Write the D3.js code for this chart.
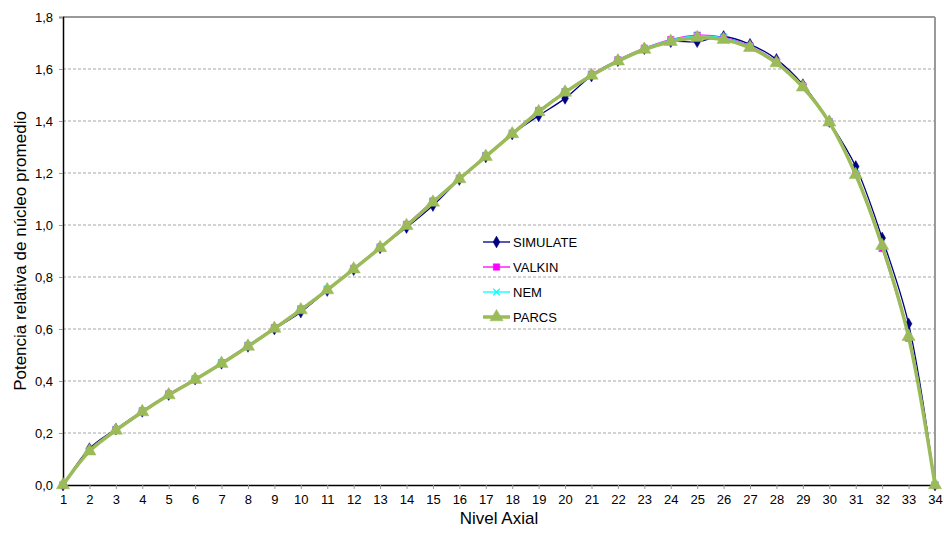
<!DOCTYPE html>
<html>
<head>
<meta charset="utf-8">
<script src="https://cdn.jsdelivr.net/npm/d3@7"></script>
<style>
  body { margin: 0; background: #fff; }
  svg { display: block; font-family: "Liberation Sans", Arial, sans-serif; }
</style>
</head>
<body>
<svg id="chart" width="944" height="537"></svg>
<script>
// axial levels
var levels = d3.range(1, 35);

var simulate = [0.000, 0.140, 0.215, 0.283, 0.348, 0.407, 0.468, 0.533, 0.600, 0.665,
  0.748, 0.828, 0.912, 0.990, 1.075, 1.175, 1.262, 1.350, 1.420, 1.487,
  1.573, 1.632, 1.678, 1.705, 1.705, 1.725, 1.695, 1.637, 1.540, 1.398,
  1.225, 0.950, 0.620, 0.000];

var valkin = [0.000, 0.133, 0.213, 0.285, 0.350, 0.408, 0.470, 0.537, 0.605, 0.677,
  0.753, 0.833, 0.915, 1.002, 1.092, 1.180, 1.267, 1.353, 1.440, 1.513,
  1.580, 1.635, 1.680, 1.713, 1.730, 1.722, 1.688, 1.628, 1.535, 1.397,
  1.197, 0.910, 0.565, 0.000];

var nem = [0.000, 0.132, 0.212, 0.284, 0.349, 0.407, 0.469, 0.536, 0.604, 0.676,
  0.752, 0.832, 0.914, 1.000, 1.090, 1.179, 1.266, 1.352, 1.438, 1.512,
  1.578, 1.634, 1.679, 1.711, 1.727, 1.720, 1.686, 1.627, 1.534, 1.396,
  1.197, 0.915, 0.568, 0.000];

var parcs = [0.000, 0.130, 0.210, 0.281, 0.346, 0.405, 0.467, 0.533, 0.602, 0.673,
  0.750, 0.830, 0.912, 0.997, 1.087, 1.177, 1.263, 1.350, 1.435, 1.510,
  1.575, 1.630, 1.675, 1.705, 1.720, 1.713, 1.682, 1.623, 1.530, 1.395,
  1.193, 0.920, 0.570, 0.000];

var yTicks = d3.range(0, 1.81, 0.2);

var seriesNames = ["SIMULATE", "VALKIN", "NEM", "PARCS"];
var seriesData = [simulate, valkin, nem, parcs];

var styles = {
  SIMULATE: { color: "#000080", width: 1.3, marker: "diamond", size: 40 },
  VALKIN:   { color: "#ff00ff", width: 1.3, marker: "square",  size: 42 },
  NEM:      { color: "#00ffff", width: 1.3, marker: "cross",   size: 30 },
  PARCS:    { color: "#9bbb59", width: 3.5, marker: "triangle", size: 75 }
};

var svg = d3.select("#chart");
var plotLeft = 63, plotRight = 935, plotTop = 17, plotBottom = 485;

var x = d3.scaleLinear().domain([1, 34]).range([plotLeft, plotRight]);
var y = d3.scaleLinear().domain([0, 1.8]).range([plotBottom, plotTop]);

// gridlines
svg.append("g")
  .selectAll("line")
  .data(yTicks.filter(function(d) { return d > 0.01 && d < 1.79; }))
  .enter().append("line")
  .attr("x1", plotLeft).attr("x2", plotRight)
  .attr("y1", function(d) { return y(d); })
  .attr("y2", function(d) { return y(d); })
  .attr("stroke", "#a6a6a6")
  .attr("stroke-width", 1)
  .attr("stroke-dasharray", "3,2");

// plot frame top/right
svg.append("line").attr("x1", plotLeft).attr("x2", plotRight).attr("y1", plotTop).attr("y2", plotTop)
  .attr("stroke", "#9a9a9a").attr("stroke-width", 2);
svg.append("line").attr("x1", plotRight).attr("x2", plotRight).attr("y1", plotTop).attr("y2", plotBottom)
  .attr("stroke", "#9a9a9a").attr("stroke-width", 2);

// y axis
var yAxis = d3.axisLeft(y).tickValues(yTicks).tickSize(4).tickPadding(6)
  .tickFormat(function(d) { return d3.format(".1f")(d).replace(".", ","); });
var gy = svg.append("g").attr("transform", "translate(" + plotLeft + ",0)").call(yAxis);
gy.select(".domain").attr("stroke", "#000").attr("stroke-width", 1.5);
gy.selectAll(".tick line").attr("stroke", "#999");
gy.selectAll("text").attr("font-size", 13).attr("fill", "#000");

// x axis
var xAxis = d3.axisBottom(x).tickValues(levels).tickSize(4).tickPadding(6)
  .tickFormat(d3.format("d"));
var gx = svg.append("g").attr("transform", "translate(0," + plotBottom + ")").call(xAxis);
gx.select(".domain").attr("stroke", "#000").attr("stroke-width", 1.5);
gx.selectAll(".tick line").attr("stroke", "#999");
gx.selectAll("text").attr("font-size", 13).attr("fill", "#000");

// axis titles
svg.append("text")
  .attr("x", (plotLeft + plotRight) / 2).attr("y", 524)
  .attr("text-anchor", "middle").attr("font-size", 17)
  .text("Nivel Axial");

svg.append("text")
  .attr("transform", "translate(26," + ((plotTop + plotBottom) / 2) + ") rotate(-90)")
  .attr("text-anchor", "middle").attr("font-size", 17)
  .text("Potencia relativa de núcleo promedio");

var symbolTypes = {
  diamond: d3.symbolDiamond,
  square: d3.symbolSquare,
  cross: d3.symbolX,
  triangle: d3.symbolTriangle
};

function drawMarker(g, name, px, py) {
  var st = styles[name];
  var path = g.append("path")
    .attr("transform", "translate(" + px + "," + py + ")")
    .attr("d", d3.symbol().type(symbolTypes[st.marker]).size(st.size)());
  if (st.marker === "cross") {
    path.attr("fill", "none").attr("stroke", st.color).attr("stroke-width", 1.2);
  } else {
    path.attr("fill", st.color).attr("stroke", st.color).attr("stroke-width", 0.5);
  }
}

var line = d3.line()
  .x(function(d, i) { return x(levels[i]); })
  .y(function(d) { return y(d); })
  .curve(d3.curveCatmullRom.alpha(0.5));

seriesNames.forEach(function(name, k) {
  var st = styles[name];
  var g = svg.append("g");
  g.append("path")
    .attr("d", line(seriesData[k]))
    .attr("fill", "none")
    .attr("stroke", st.color)
    .attr("stroke-width", st.width)
    .attr("stroke-linejoin", "round");
  seriesData[k].forEach(function(v, i) {
    drawMarker(g, name, x(levels[i]), y(v));
  });
});

// legend
var legend = svg.append("g");
seriesNames.forEach(function(name, k) {
  var st = styles[name];
  var ly = 242 + k * 25;
  legend.append("line")
    .attr("x1", 483).attr("x2", 510).attr("y1", ly).attr("y2", ly)
    .attr("stroke", st.color).attr("stroke-width", st.width);
  drawMarker(legend, name, 496.5, ly);
  legend.append("text")
    .attr("x", 513).attr("y", ly + 4.5)
    .attr("font-size", 13)
    .text(name);
});
</script>
</body>
</html>
